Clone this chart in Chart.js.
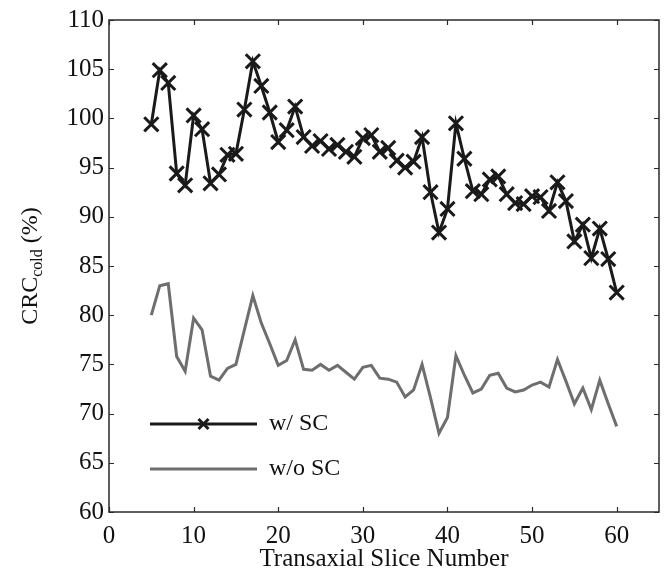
<!DOCTYPE html>
<html>
<head>
<meta charset="utf-8">
<script src="https://cdn.jsdelivr.net/npm/chart.js@4/dist/chart.umd.min.js"></script>
<style>
  html, body { margin: 0; padding: 0; background: #fff; }
  #wrap { width: 664px; height: 575px; }
</style>
</head>
<body>
<div id="wrap"><canvas id="chart" width="664" height="575"></canvas></div>
<script>
// slice numbers along the x axis
const slices = [5, 6, 7, 8, 9, 10, 11, 12, 13, 14, 15, 16, 17, 18, 19, 20,
  21, 22, 23, 24, 25, 26, 27, 28, 29, 30, 31, 32, 33, 34, 35, 36, 37, 38, 39, 40,
  41, 42, 43, 44, 45, 46, 47, 48, 49, 50, 51, 52, 53, 54, 55, 56, 57, 58, 59, 60];

// CRC_cold (%) with scatter correction
const withSC = [99.4, 104.9, 103.6, 94.4, 93.2, 100.3, 98.9, 93.4, 94.3, 96.3, 96.4, 100.9,
  105.8, 103.3, 100.6, 97.6, 98.8, 101.2, 98.1, 97.2, 97.7, 96.9, 97.3, 96.6, 96.1, 98.0,
  98.3, 96.6, 97.0, 95.7, 95.0, 95.6, 98.1, 92.5, 88.4, 90.8, 99.5, 95.9, 92.6, 92.3, 93.8,
  94.1, 92.3, 91.4, 91.3, 92.1, 92.0, 90.6, 93.5, 91.6, 87.5, 89.2, 85.8, 88.8, 85.7, 82.3];

// CRC_cold (%) without scatter correction
const withoutSC = [80.0, 83.0, 83.2, 75.8, 74.3, 79.7, 78.5, 73.8, 73.4, 74.6, 75.0, 78.5,
  82.0, 79.2, 77.1, 74.9, 75.4, 77.5, 74.5, 74.4, 75.0, 74.4, 74.9, 74.2, 73.5, 74.7,
  74.9, 73.6, 73.5, 73.2, 71.7, 72.4, 75.0, 71.6, 68.0, 69.6, 75.9, 73.9, 72.1, 72.5, 73.9,
  74.1, 72.6, 72.2, 72.4, 72.9, 73.2, 72.7, 75.5, 73.3, 71.0, 72.6, 70.4, 73.4, 71.0, 68.7];

const xTicks = [0, 10, 20, 30, 40, 50, 60];
const yTicks = [60, 65, 70, 75, 80, 85, 90, 95, 100, 105, 110];

const FONT = '"Liberation Serif", "Times New Roman", serif';
const AXIS = '#2a2a2a';

// Matlab-like box with inward ticks on all four sides
const boxPlugin = {
  id: 'box',
  afterDraw(chart) {
    const { ctx, chartArea: a, scales } = chart;
    ctx.save();
    ctx.strokeStyle = AXIS;
    ctx.lineWidth = 1.5;
    ctx.strokeRect(a.left, a.top, a.right - a.left, a.bottom - a.top);
    ctx.lineWidth = 1.2;
    ctx.beginPath();
    xTicks.forEach(v => {
      const px = Math.round(scales.x.getPixelForValue(v)) + 0.5;
      ctx.moveTo(px, a.bottom); ctx.lineTo(px, a.bottom - 5);
      ctx.moveTo(px, a.top); ctx.lineTo(px, a.top + 5);
    });
    yTicks.forEach(v => {
      const py = Math.round(scales.y.getPixelForValue(v)) + 0.5;
      ctx.moveTo(a.left, py); ctx.lineTo(a.left + 5, py);
      ctx.moveTo(a.right, py); ctx.lineTo(a.right - 5, py);
    });
    ctx.stroke();
    ctx.restore();
  }
};

// y title with subscript: CRC_cold (%)
const yTitlePlugin = {
  id: 'ytitle',
  afterDraw(chart) {
    const { ctx, chartArea: a } = chart;
    const big = '24px ' + FONT, small = '16px ' + FONT;
    ctx.save();
    ctx.fillStyle = '#111';
    ctx.textBaseline = 'alphabetic';
    ctx.font = big; const w1 = ctx.measureText('CRC').width;
    ctx.font = small; const w2 = ctx.measureText('cold').width;
    ctx.font = big; const w3 = ctx.measureText(' (%)').width;
    const total = w1 + w2 + w3;
    ctx.translate(37, (a.top + a.bottom) / 2);
    ctx.rotate(-Math.PI / 2);
    let x = -total / 2;
    ctx.font = big; ctx.fillText('CRC', x, 0); x += w1;
    ctx.font = small; ctx.fillText('cold', x, 5); x += w2;
    ctx.font = big; ctx.fillText(' (%)', x, 0);
    ctx.restore();
  }
};

// legend drawn inside the plot, lower left
const legendPlugin = {
  id: 'insideLegend',
  afterDraw(chart) {
    const { ctx, chartArea: a } = chart;
    const rows = [a.bottom - 88, a.bottom - 43];
    ctx.save();
    chart.data.datasets.forEach((ds, i) => {
      const y = rows[i];
      const x0 = a.left + 41, x1 = a.left + 148;
      ctx.strokeStyle = ds.borderColor;
      ctx.lineWidth = ds.borderWidth;
      ctx.beginPath(); ctx.moveTo(x0, y); ctx.lineTo(x1, y); ctx.stroke();
      if (ds.pointRadius > 0) {
        const cx = (x0 + x1) / 2, r = 5;
        ctx.lineWidth = ds.pointBorderWidth;
        ctx.beginPath();
        ctx.moveTo(cx - r, y - r); ctx.lineTo(cx + r, y + r);
        ctx.moveTo(cx + r, y - r); ctx.lineTo(cx - r, y + r);
        ctx.stroke();
      }
      ctx.fillStyle = '#111';
      ctx.font = '24px ' + FONT;
      ctx.textBaseline = 'middle';
      ctx.fillText(ds.label, a.left + 160, y);
    });
    ctx.restore();
  }
};

new Chart(document.getElementById('chart'), {
  type: 'line',
  data: {
    datasets: [
      {
        label: 'w/ SC',
        data: slices.map((s, i) => ({ x: s, y: withSC[i] })),
        borderColor: '#1a1a1a',
        borderWidth: 3,
        pointStyle: 'crossRot',
        pointRadius: 10,
        pointBorderWidth: 3,
        pointBorderColor: '#1a1a1a',
        tension: 0
      },
      {
        label: 'w/o SC',
        data: slices.map((s, i) => ({ x: s, y: withoutSC[i] })),
        borderColor: '#6e6e6e',
        borderWidth: 3,
        pointRadius: 0,
        tension: 0
      }
    ]
  },
  options: {
    responsive: false,
    animation: false,
    layout: { autoPadding: false, padding: { left: 0, right: 5, top: 16, bottom: 0 } },
    plugins: { legend: { display: false }, tooltip: { enabled: false } },
    scales: {
      x: {
        type: 'linear', min: 0, max: 65,
        afterBuildTicks: s => { s.ticks = xTicks.map(v => ({ value: v })); },
        afterFit: s => { s.height = 63; },
        grid: { display: false, drawTicks: false },
        border: { display: false },
        ticks: { padding: 9, color: '#111', font: { family: FONT, size: 25 }, maxRotation: 0 },
        title: { display: true, text: 'Transaxial Slice Number', color: '#111',
                 font: { family: FONT, size: 25 }, padding: { top: 0, bottom: 1 } }
      },
      y: {
        type: 'linear', min: 60, max: 110,
        afterBuildTicks: s => { s.ticks = yTicks.map(v => ({ value: v })); },
        afterFit: s => { s.width = 109; },
        grid: { display: false, drawTicks: false },
        border: { display: false },
        ticks: { padding: 5, color: '#111', font: { family: FONT, size: 25 } }
      }
    }
  },
  plugins: [boxPlugin, yTitlePlugin, legendPlugin]
});
</script>
</body>
</html>
